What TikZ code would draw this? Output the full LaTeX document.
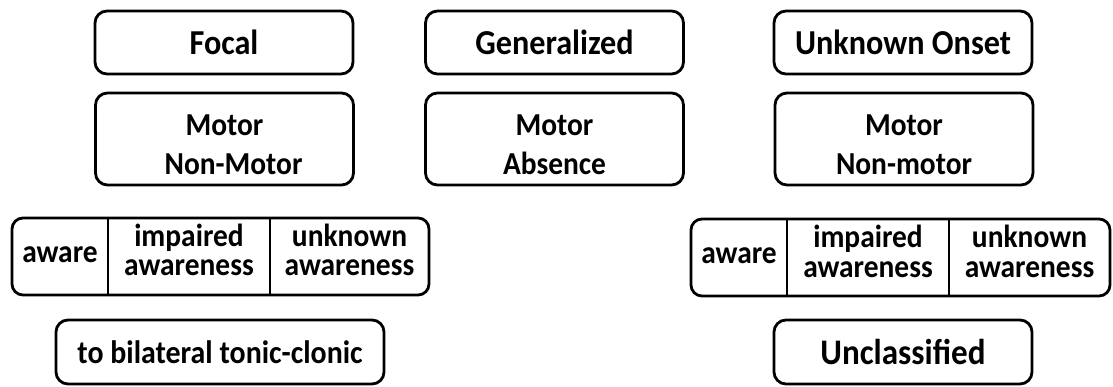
\documentclass[tikz,border=0pt]{standalone}
\usepackage{fontspec}
\setmainfont{Carlito}[FakeStretch=0.92]
\usetikzlibrary{positioning}

\tikzset{
  every box/.style={draw, line width=2.8pt, rounded corners=12pt, inner sep=0pt, outer sep=0pt, align=center},
  onset box/.style={every box, minimum width=258pt, minimum height=63pt, font=\bfseries\fontsize{35}{40}\selectfont},
  kind box/.style={every box, minimum width=258pt, minimum height=92pt, text height=72pt, text depth=0pt,
    font=\bfseries\fontsize{32}{39}\selectfont},
  extra box/.style={every box, minimum height=64pt},
  cell/.style={inner sep=0pt, outer sep=0pt, minimum height=77pt, align=center, text height=52pt, text depth=13pt,
    font=\bfseries\fontsize{32}{29}\selectfont},
  single cell/.style={cell, text height=16pt, text depth=5pt},
  table line/.style={line width=2.8pt, rounded corners=11pt}
}

\begin{document}
\begin{tikzpicture}[x=1pt, y=-1pt]

\useasboundingbox (0,0) rectangle (1113,387);

% define onset row
\foreach \m/\l/\x in {focal/Focal/224, generalized/Generalized/554.5, unknown/Unknown Onset/903}
  \node [onset box] (onset-\m) at (\x,42.5) {\l};

% define motor row
\foreach \m/\l/\x in {focal/{Motor\\\hspace*{18pt}Non-Motor}/224.5, generalized/{Motor\\Absence}/554.5, unknown/{Motor\\Non-motor}/904}
  \node [kind box] (kind-\m) at (\x,139) {\l};

% define awareness tables
\foreach \m/\x/\y/\w in {focal/60/256.5/159, unknown/739/257.5/161} {
  \node [single cell, minimum width=96pt] (\m-aware) at (\x,\y) {aware};
  \node [cell, minimum width=162pt, right=0pt of \m-aware] (\m-impaired) {impaired\\awareness};
  \node [cell, minimum width=\w pt, right=0pt of \m-impaired] (\m-unknown) {unknown\\awareness};
  \draw [table line] (\m-aware.north west) rectangle (\m-unknown.south east);
  \draw [line width=2.4pt] (\m-aware.north east) -- (\m-aware.south east);
  \draw [line width=2.4pt] (\m-impaired.north east) -- (\m-impaired.south east);
}

% define bottom row
\node [extra box, minimum width=328pt, font=\bfseries\fontsize{32.5}{38}\selectfont]
  (focal-bilateral) at (220,352) {to bilateral tonic-clonic};
\node [extra box, minimum width=258pt, font=\bfseries\fontsize{36}{40}\selectfont]
  (unknown-unclassified) at (903,352) {Unclassified};

\end{tikzpicture}
\end{document}
